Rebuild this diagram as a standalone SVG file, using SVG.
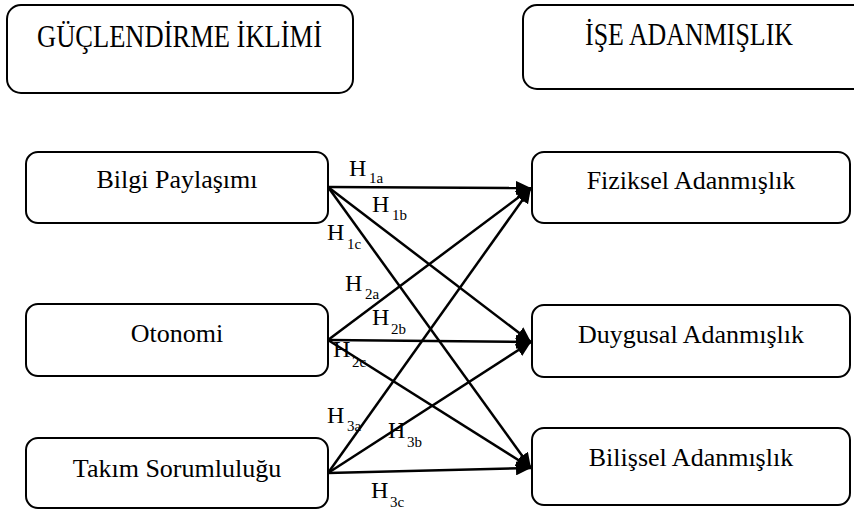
<svg xmlns="http://www.w3.org/2000/svg" width="854" height="510" viewBox="0 0 854 510">
<defs>
<style>
.box{fill:#fff;stroke:#000;stroke-width:2}
.t{font-family:"Liberation Serif","Times New Roman",serif;font-size:26px;fill:#000;text-anchor:middle}
.tt{font-family:"Liberation Serif","Times New Roman",serif;font-size:31px;fill:#000}
.h{font-family:"Liberation Serif","Times New Roman",serif;font-size:24px;fill:#000}
.s{font-size:15px}
.e{stroke:#000;stroke-width:2.5;fill:none;marker-end:url(#ah)}
</style>
<marker id="ah" markerUnits="userSpaceOnUse" markerWidth="16" markerHeight="14" refX="15" refY="7" orient="auto">
<path d="M0,0 L15,7 L0,14 Z" fill="#000"/>
</marker>
</defs>
<rect width="854" height="510" fill="#fff"/>
<g id="guclendirme">
<rect class="box" x="7" y="5" width="346" height="88" rx="14"/>
<text class="tt" x="37" y="47" textLength="285" lengthAdjust="spacingAndGlyphs">GÜÇLENDİRME İKLİMİ</text>
</g>
<g id="ise-adanmislik">
<rect class="box" x="523" y="5" width="345" height="84" rx="14"/>
<text class="tt" x="585" y="45" textLength="208" lengthAdjust="spacingAndGlyphs">İŞE ADANMIŞLIK</text>
</g>
<g id="bilgi">
<rect class="box" x="26" y="152" width="302" height="71" rx="12"/>
<text class="t" x="177" y="188">Bilgi Paylaşımı</text>
</g>
<g id="otonomi">
<rect class="box" x="26" y="304" width="302" height="72" rx="12"/>
<text class="t" x="177" y="342">Otonomi</text>
</g>
<g id="takim">
<rect class="box" x="26" y="438" width="302" height="70" rx="12"/>
<text class="t" x="177" y="477">Takım Sorumluluğu</text>
</g>
<g id="fiziksel">
<rect class="box" x="532" y="152" width="318" height="71" rx="12"/>
<text class="t" x="691" y="189">Fiziksel Adanmışlık</text>
</g>
<g id="duygusal">
<rect class="box" x="532" y="305" width="318" height="72" rx="12"/>
<text class="t" x="691" y="343">Duygusal Adanmışlık</text>
</g>
<g id="bilissel">
<rect class="box" x="532" y="428" width="318" height="77" rx="12"/>
<text class="t" x="691" y="466">Bilişsel Adanmışlık</text>
</g>
<g id="connectors">
<line class="e" x1="328" y1="187" x2="531" y2="188"/>
<line class="e" x1="328" y1="187" x2="531" y2="342"/>
<line class="e" x1="328" y1="187" x2="531" y2="468"/>
<line class="e" x1="328" y1="340" x2="531" y2="188"/>
<line class="e" x1="328" y1="340" x2="531" y2="342"/>
<line class="e" x1="328" y1="340" x2="531" y2="468"/>
<line class="e" x1="328" y1="473" x2="531" y2="188"/>
<line class="e" x1="328" y1="473" x2="531" y2="342"/>
<line class="e" x1="328" y1="473" x2="531" y2="468"/>
</g>
<g id="labels">
<text class="h" x="349" y="176">H<tspan class="s" x="369" y="183">1a</tspan></text>
<text class="h" x="372" y="212">H<tspan class="s" x="392" y="220">1b</tspan></text>
<text class="h" x="327" y="240">H<tspan class="s" x="347" y="249">1c</tspan></text>
<text class="h" x="345" y="291">H<tspan class="s" x="365" y="299">2a</tspan></text>
<text class="h" x="372" y="325">H<tspan class="s" x="391" y="334">2b</tspan></text>
<text class="h" x="333" y="357">H<tspan class="s" x="352" y="367">2c</tspan></text>
<text class="h" x="327" y="423">H<tspan class="s" x="347" y="431">3a</tspan></text>
<text class="h" x="388" y="438">H<tspan class="s" x="407" y="447">3b</tspan></text>
<text class="h" x="371" y="498">H<tspan class="s" x="390" y="507">3c</tspan></text>
</g>
</svg>
